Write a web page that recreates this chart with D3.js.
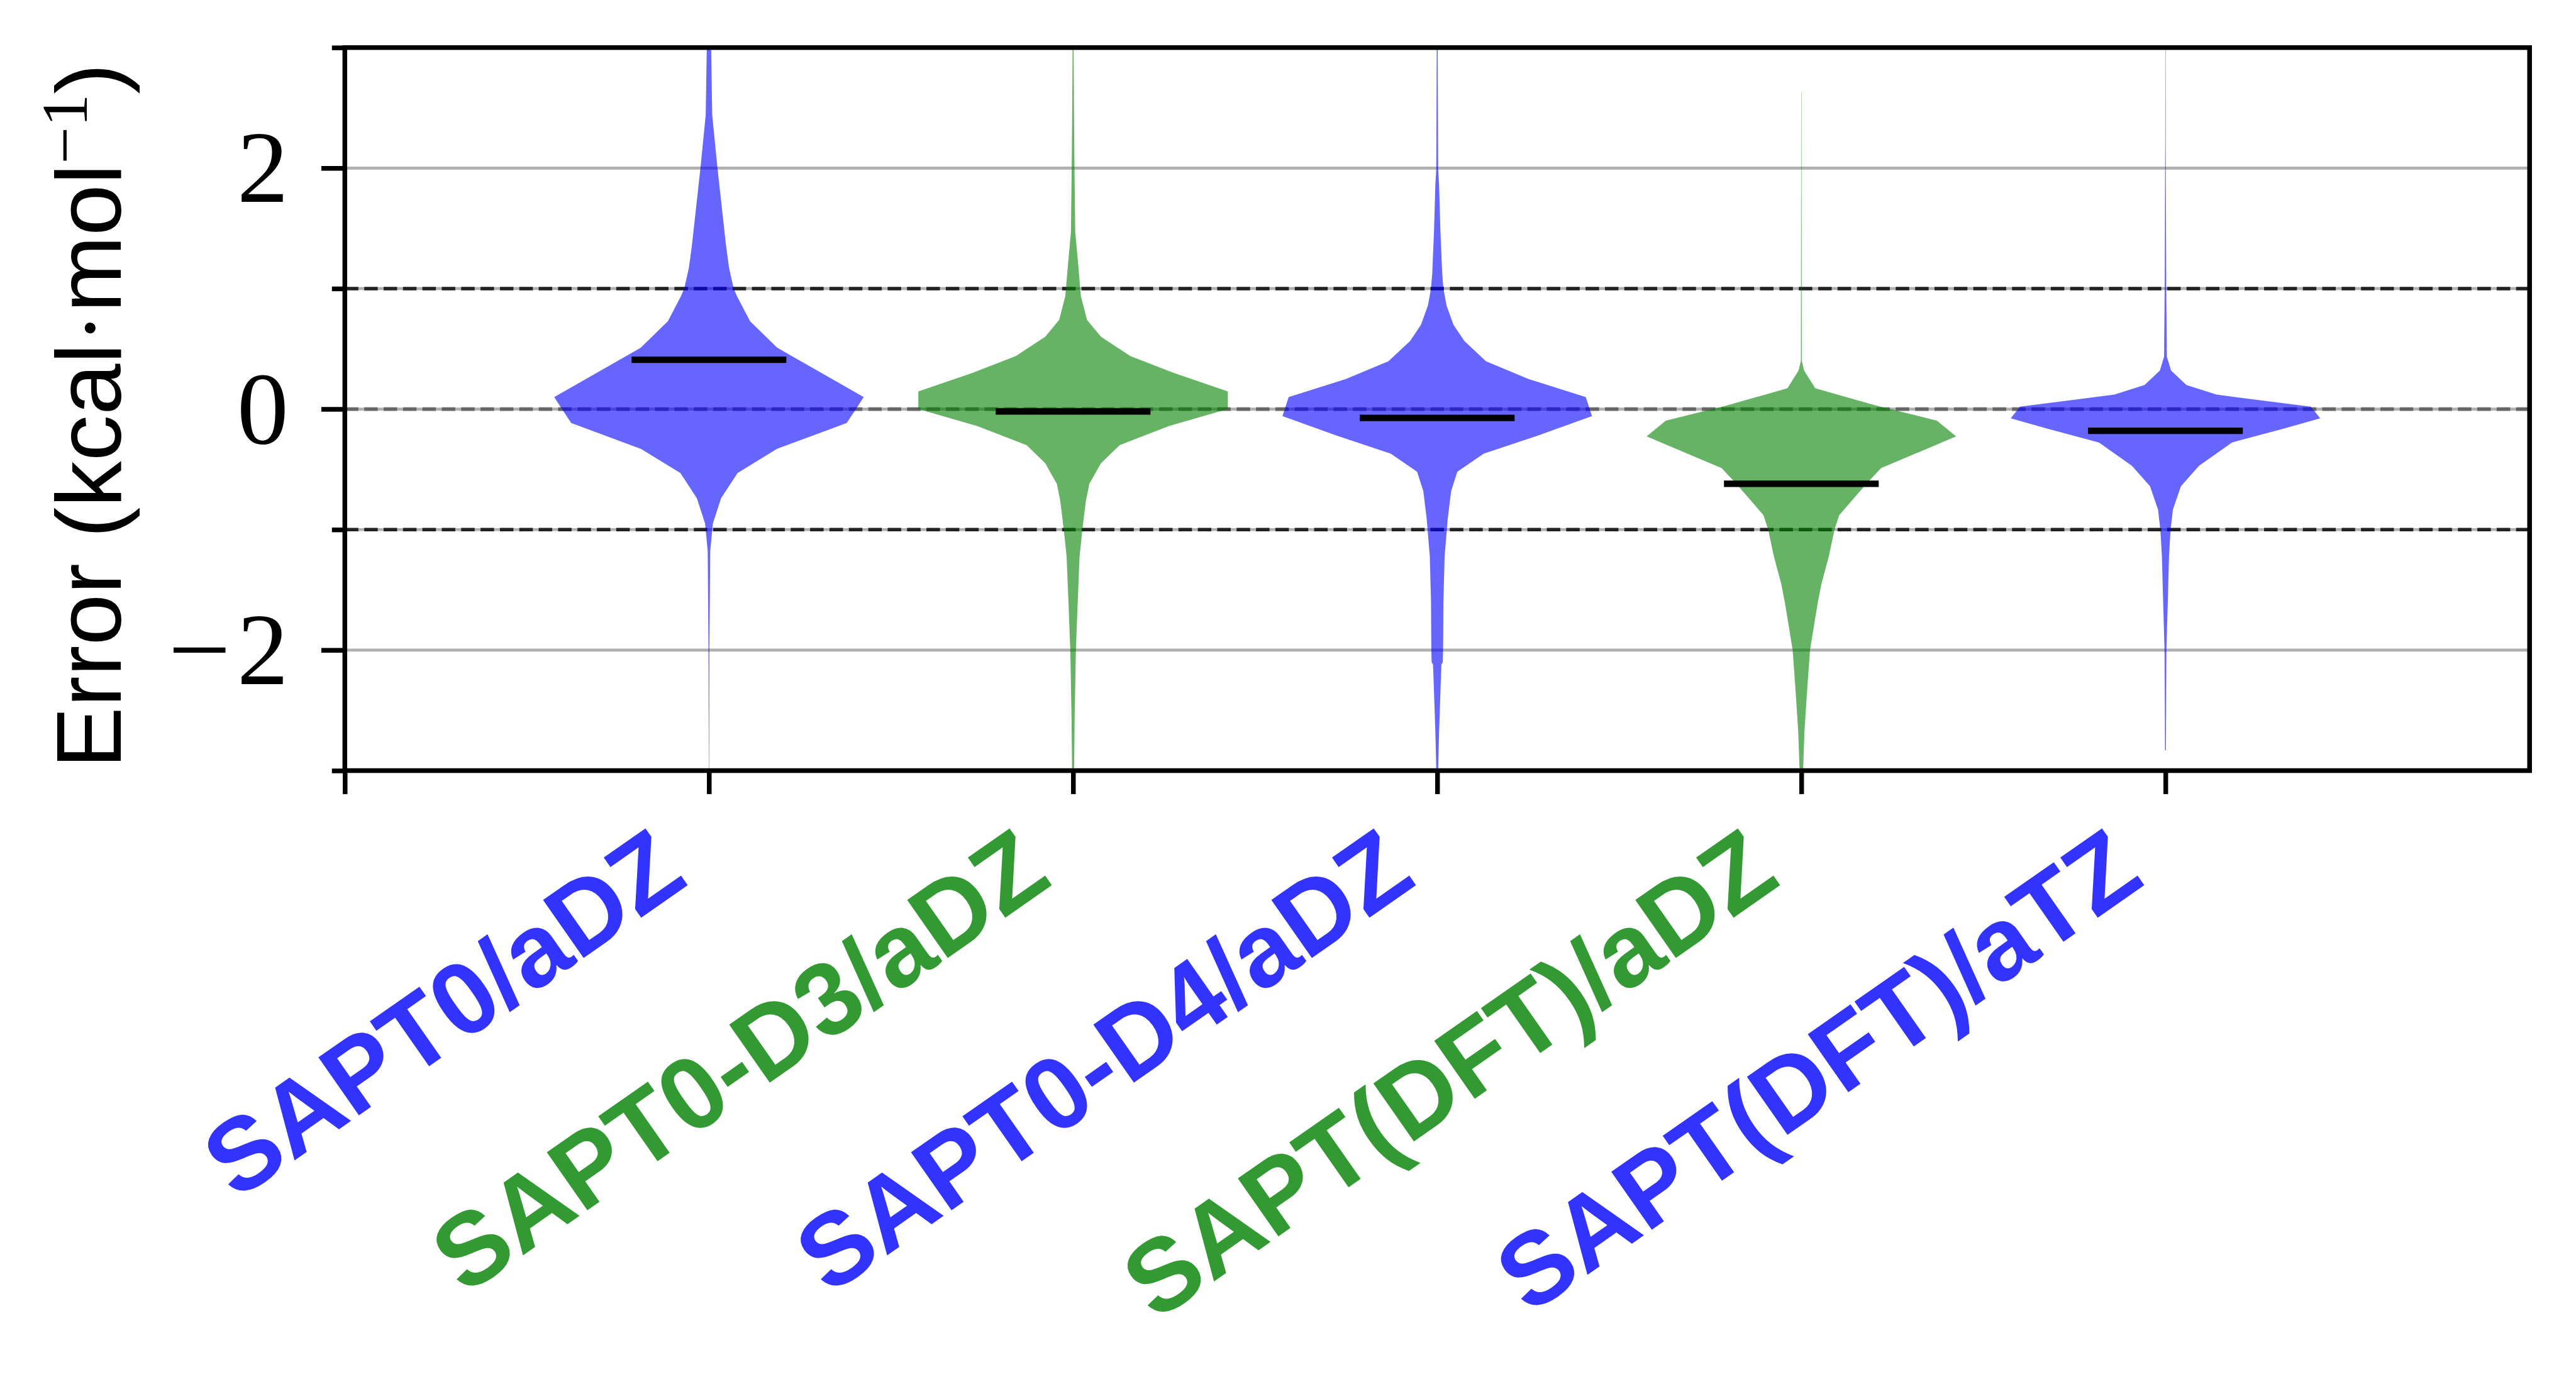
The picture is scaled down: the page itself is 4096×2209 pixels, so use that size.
<!DOCTYPE html>
<html>
<head>
<meta charset="utf-8">
<script src="https://cdn.jsdelivr.net/npm/d3@7"></script>
<style>
  html, body { margin: 0; padding: 0; background: #fff; }
  svg { display: block; }
</style>
</head>
<body>
<svg id="chart" width="4096" height="2209"></svg>
<script>
// ---------------- DATA ----------------
const categories = ["SAPT0/aDZ", "SAPT0-D3/aDZ", "SAPT0-D4/aDZ", "SAPT(DFT)/aDZ", "SAPT(DFT)/aTZ"];
const categoryColors = ["blue", "green", "blue", "green", "blue"];
const meanErrors = [0.41, -0.02, -0.073, -0.62, -0.18];

// violin outlines: error value and relative half-width (1 = widest point)
const densityY_SAPT0 = [3.05, 3.0, 2.44, 2.0, 1.36, 1.17, 1.0, 0.94, 0.73, 0.51, 0.10, 0.0, -0.115, -0.33, -0.53, -0.74, -0.95, -1.18, -2.0, -3.05];
const densityW_SAPT0 = [0.013, 0.014, 0.021, 0.055, 0.11, 0.13, 0.16, 0.18, 0.265, 0.44, 1.0, 0.95, 0.89, 0.44, 0.185, 0.078, 0.025, 0.008, 0.003, 0.001];

const densityY_D3 = [3.05, 2.44, 2.0, 1.47, 1.17, 0.94, 0.74, 0.6, 0.44, 0.3, 0.146, 0.0, -0.14, -0.30, -0.45, -0.62, -0.76, -1.0, -1.22, -1.6, -2.0, -2.57, -3.05];
const densityW_D3 = [0.003, 0.006, 0.009, 0.014, 0.035, 0.05, 0.09, 0.18, 0.37, 0.65, 1.0, 1.0, 0.62, 0.30, 0.18, 0.105, 0.083, 0.06, 0.042, 0.03, 0.018, 0.01, 0.006];

const densityY_D4 = [3.05, 2.0, 1.86, 1.47, 1.13, 1.0, 0.86, 0.70, 0.566, 0.397, 0.25, 0.10, -0.058, -0.22, -0.37, -0.52, -0.68, -0.91, -1.22, -1.6, -2.0, -2.1, -2.12, -2.38, -2.68, -3.05];
const densityW_D4 = [0.003, 0.006, 0.012, 0.021, 0.032, 0.04, 0.06, 0.105, 0.175, 0.315, 0.59, 0.96, 1.0, 0.65, 0.30, 0.13, 0.09, 0.068, 0.048, 0.04, 0.038, 0.036, 0.027, 0.02, 0.012, 0.005];

const densityY_DFTaDZ = [2.63, 1.86, 0.40, 0.32, 0.173, 0.03, -0.096, -0.227, -0.49, -0.62, -0.88, -1.0, -1.22, -1.45, -1.6, -2.0, -2.38, -2.68, -3.05];
const densityW_DFTaDZ = [0.001, 0.0015, 0.003, 0.018, 0.09, 0.48, 0.876, 1.0, 0.515, 0.42, 0.245, 0.214, 0.178, 0.13, 0.107, 0.056, 0.035, 0.02, 0.01];

const densityY_DFTaTZ = [3.05, 2.24, 1.0, 0.435, 0.32, 0.20, 0.12, 0.02, -0.077, -0.16, -0.277, -0.47, -0.64, -0.835, -1.0, -1.22, -1.6, -2.0, -2.38, -2.83];
const densityW_DFTaTZ = [0.001, 0.0015, 0.005, 0.009, 0.036, 0.135, 0.33, 0.94, 1.0, 0.77, 0.43, 0.217, 0.10, 0.048, 0.033, 0.023, 0.015, 0.006, 0.0045, 0.003];

const densityY = [densityY_SAPT0, densityY_D3, densityY_D4, densityY_DFTaDZ, densityY_DFTaTZ];
const densityW = [densityW_SAPT0, densityW_D3, densityW_D4, densityW_DFTaDZ, densityW_DFTaTZ];

const yMajorTicks = [-2, 0, 2];
const yMajorTickLabels = ["\u22122", "0", "2"];
const yMinorTicks = [-3, -1, 1, 3];
const yGridValues = [-2, -1, 0, 1, 2];
const refLinesBlack = [-1, 1];
const refLinesGray = [0];

// ---------------- LAYOUT (reference pixels, scaled to window) ----------------
const S = 4096 / 4385;
const L = 587, R = 4306, T = 81, B = 1312;
const violinWidth = 0.85;
const meanLineWidth = violinWidth * 0.5;
const fillColor = { blue: "#0000ff", green: "#008000" };
const textColor = { blue: "#3333ff", green: "#339933" };

const svg = d3.select("#chart");
const root = svg.append("g").attr("transform", `scale(${S})`);

const x = d3.scaleLinear().domain([0, 6]).range([L, R]);
const y = d3.scaleLinear().domain([-3, 3]).range([B, T]);

root.append("defs").append("clipPath").attr("id", "plotClip")
  .append("rect").attr("x", L).attr("y", T).attr("width", R - L).attr("height", B - T);

const plot = root.append("g").attr("clip-path", "url(#plotClip)");

// grid
plot.selectAll("line.grid").data(yGridValues).enter().append("line")
  .attr("class", "grid")
  .attr("x1", L).attr("x2", R)
  .attr("y1", d => y(d)).attr("y2", d => y(d))
  .attr("stroke", "#b0b0b0").attr("stroke-width", 5);

// reference lines
plot.selectAll("line.refg").data(refLinesGray).enter().append("line")
  .attr("x1", L).attr("x2", R)
  .attr("y1", d => y(d)).attr("y2", d => y(d))
  .attr("stroke", "#666666").attr("stroke-width", 6)
  .attr("stroke-dasharray", "23,10");
plot.selectAll("line.refk").data(refLinesBlack).enter().append("line")
  .attr("x1", L).attr("x2", R)
  .attr("y1", d => y(d)).attr("y2", d => y(d))
  .attr("stroke", "#222222").attr("stroke-width", 6)
  .attr("stroke-dasharray", "23,10");

// violins
const halfPx = (x(violinWidth / 2) - x(0));
categories.forEach((cat, i) => {
  const cx = x(i + 1);
  const pts = densityY[i].map((v, j) => ({ v: v, w: densityW[i][j] }));
  const area = d3.area()
    .y(d => y(d.v))
    .x0(d => cx - d.w * halfPx)
    .x1(d => cx + d.w * halfPx)
    .curve(d3.curveLinear);
  plot.append("path")
    .attr("d", area(pts))
    .attr("fill", fillColor[categoryColors[i]])
    .attr("fill-opacity", 0.6)
    .attr("stroke", "none");
});

// mean lines
plot.selectAll("line.mean").data(meanErrors).enter().append("line")
  .attr("x1", (d, i) => x(i + 1 - meanLineWidth / 2))
  .attr("x2", (d, i) => x(i + 1 + meanLineWidth / 2))
  .attr("y1", d => y(d)).attr("y2", d => y(d))
  .attr("stroke", "#000").attr("stroke-width", 11);

// ticks via axes
const axLeftMajor = root.append("g").attr("transform", `translate(${L},0)`)
  .call(d3.axisLeft(y).tickValues(yMajorTicks).tickSize(40).tickFormat(""));
const axLeftMinor = root.append("g").attr("transform", `translate(${L},0)`)
  .call(d3.axisLeft(y).tickValues(yMinorTicks).tickSize(22).tickFormat(""));
const axBottom = root.append("g").attr("transform", `translate(0,${B})`)
  .call(d3.axisBottom(x).tickValues([0, 1, 2, 3, 4, 5]).tickSize(40).tickFormat(""));
[axLeftMajor, axLeftMinor, axBottom].forEach(g => {
  g.select(".domain").remove();
  g.selectAll(".tick line").attr("stroke", "#000").attr("stroke-width", 8);
});

// spines
root.append("rect").attr("x", L).attr("y", T).attr("width", R - L).attr("height", B - T)
  .attr("fill", "none").attr("stroke", "#000").attr("stroke-width", 8);

// y tick labels (digits right-aligned, math minus drawn wide like TeX)
const serif = "'Liberation Serif', 'DejaVu Serif', serif";
yMajorTicks.forEach((v, i) => {
  const lab = yMajorTickLabels[i];
  const neg = lab.startsWith("\u2212");
  const digits = neg ? lab.slice(1) : lab;
  root.append("text")
    .attr("x", 491).attr("y", y(v) + 58)
    .attr("text-anchor", "end")
    .attr("font-family", serif)
    .attr("font-size", 175)
    .attr("fill", "#000")
    .text(digits);
  if (neg) {
    root.append("text")
      .attr("x", 286).attr("y", y(v) + 58)
      .attr("font-family", serif)
      .attr("font-size", 175)
      .attr("textLength", 107)
      .attr("lengthAdjust", "spacingAndGlyphs")
      .attr("fill", "#000")
      .text("\u2212");
  }
});

// x tick labels
root.selectAll("text.xtl").data(categories).enter().append("text")
  .attr("transform", (d, i) => `translate(${x(i + 1) - 32},1504) rotate(-35)`)
  .attr("text-anchor", "end")
  .attr("font-family", "'Liberation Sans', Arial, Helvetica, sans-serif")
  .attr("font-weight", "bold")
  .attr("font-size", 175)
  .attr("fill", (d, i) => textColor[categoryColors[i]])
  .text(d => d);

// y axis label
const ylab = root.append("text")
  .attr("transform", `translate(206,708) rotate(-90)`)
  .attr("text-anchor", "middle")
  .attr("font-family", "'Liberation Sans', Arial, Helvetica, sans-serif")
  .attr("font-size", 157)
  .attr("fill", "#000");
ylab.append("tspan").text("Error (kcal");
ylab.append("tspan").attr("font-family", serif).text("\u00B7");
ylab.append("tspan").text("mol");
ylab.append("tspan").attr("font-family", serif).attr("font-size", 112)
  .attr("dy", -58).text("\u22121");
ylab.append("tspan").attr("dy", 58).text(")");
</script>
</body>
</html>
